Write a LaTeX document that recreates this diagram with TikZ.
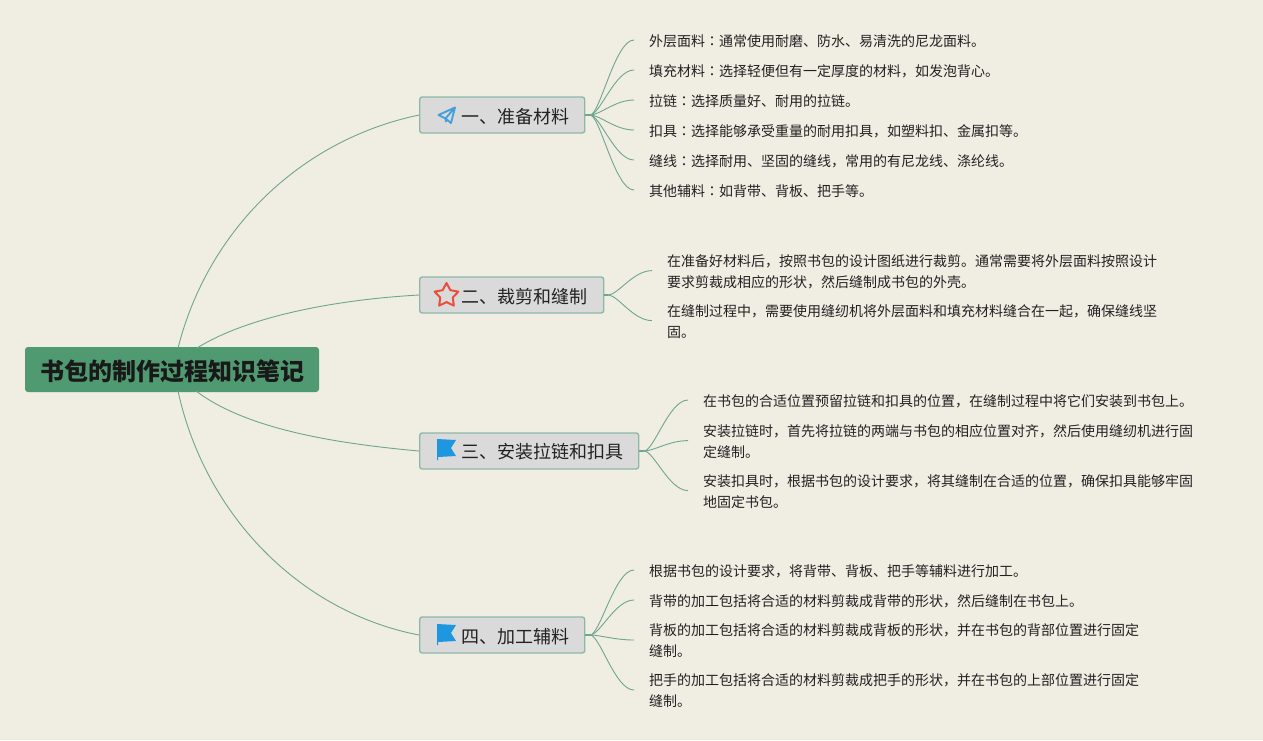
\documentclass[tikz,border=0pt]{standalone}
\usepackage{fontspec}
\usetikzlibrary{shapes.geometric}
\setmainfont{Noto Sans CJK SC}
\newfontfamily\jpf{Noto Sans CJK JP}
\newcommand{\cl}{{\jpf ：}}
\definecolor{bgc}{HTML}{F0EDE3}
\definecolor{rootc}{HTML}{509A72}
\definecolor{topicc}{HTML}{DBDADA}
\definecolor{edgec}{HTML}{8DB8A6}
\definecolor{linec}{HTML}{6FA68F}
\definecolor{flagc}{HTML}{1F96E0}
\definecolor{planec}{HTML}{44A0DA}
\definecolor{starc}{HTML}{E8503A}
\definecolor{txtc}{HTML}{222222}
\tikzset{
  rootbox/.style={fill=rootc,rounded corners=3pt,minimum width=294pt,minimum height=45pt,inner sep=0pt},
  roottext/.style={inner sep=0pt,font=\fontsize{24}{28}\selectfont\bfseries,text=black!90},
  topicbox/.style={draw=edgec,line width=1.4pt,fill=topicc,rounded corners=2.5pt,minimum height=36pt,inner ysep=0pt,inner xsep=0pt,anchor=west},
  topictext/.style={anchor=west,inner sep=0pt,font=\fontsize{18}{22}\selectfont,text=txtc},
  leaf/.style={anchor=west,align=left,inner xsep=15pt,inner ysep=0pt,font=\fontsize{14}{21}\selectfont,text=txtc},
  stub/.style={draw=linec,line width=1.5pt},
  conn/.style={draw=linec,line width=.9pt},
  flagicon/.pic={
    \fill[flagc] (0,0) -- (19,1) -- (14,9) -- (19,17) -- (1.2,18) -- (1.2,21) -- (0,21) -- cycle;
  }
}
\newcommand{\branch}[2]{\draw[conn] (#1) .. controls +(10,0) and +(-19,0) .. ([yshift=1pt]#2.west);}
\begin{document}
\begin{tikzpicture}[x=1pt,y=-1pt]
\useasboundingbox[fill=bgc] (0,0) rectangle (1263,740);

\coordinate (r1) at (178,348);
\coordinate (r2) at (197,348);
\coordinate (r3) at (196,391);
\coordinate (r4) at (178,391);
\coordinate (h1) at (590,115);
\coordinate (h2) at (608,295);
\coordinate (h3) at (644,451);
\coordinate (h4) at (590,635);

\node[rootbox] (root) at (172,369.5) {};
\node[roottext] (rootx) at (172,371.3) {书包的制作过程知识笔记};

\node[topicbox,minimum width=165pt] (t1) at (419,115) {};
\node[topicbox,minimum width=184pt] (t2) at (419,295) {};
\node[topicbox,minimum width=219pt] (t3) at (419,451) {};
\node[topicbox,minimum width=165pt] (t4) at (419,635) {};

\node[topictext] (t1x) at (461,116.2) {一、准备材料};
\node[topictext] (t2x) at (461,296.2) {二、裁剪和缝制};
\node[topictext] (t3x) at (461,451.8) {三、安装拉链和扣具};
\node[topictext] (t4x) at (461,636.2) {四、加工辅料};

\draw[conn] (r1) .. controls (208,230) and (300,140) .. (t1.west);
\draw[conn] (r2) .. controls (245,318) and (330,300) .. (t2.west);
\draw[conn] (r3) .. controls (245,428) and (330,443) .. (t3.west);
\draw[conn] (r4) .. controls (205,515) and (300,612) .. (t4.west);

\draw[stub] (t1.east) -- (h1);
\draw[stub] (t2.east) -- (h2);
\draw[stub] (t3.east) -- (h3);
\draw[stub] (t4.east) -- (h4);

% leaves
\node[leaf] (a1) at (634,41) {外层面料\cl 通常使用耐磨、防水、易清洗的尼龙面料。};
\node[leaf] (a2) at (634,71) {填充材料\cl 选择轻便但有一定厚度的材料，如发泡背心。};
\node[leaf] (a3) at (634,101) {拉链\cl 选择质量好、耐用的拉链。};
\node[leaf] (a4) at (634,131) {扣具\cl 选择能够承受重量的耐用扣具，如塑料扣、金属扣等。};
\node[leaf] (a5) at (634,161) {缝线\cl 选择耐用、坚固的缝线，常用的有尼龙线、涤纶线。};
\node[leaf] (a6) at (634,191) {其他辅料\cl 如背带、背板、把手等。};

\node[leaf] (b1) at (652,271.6) {在准备好材料后，按照书包的设计图纸进行裁剪。通常需要将外层面料按照设计\\要求剪裁成相应的形状，然后缝制成书包的外壳。};
\node[leaf] (b2) at (652,321.6) {在缝制过程中，需要使用缝纫机将外层面料和填充材料缝合在一起，确保缝线坚\\固。};

\node[leaf] (c1) at (688,401) {在书包的合适位置预留拉链和扣具的位置，在缝制过程中将它们安装到书包上。};
\node[leaf] (c2) at (688,441.6) {安装拉链时，首先将拉链的两端与书包的相应位置对齐，然后使用缝纫机进行固\\定缝制。};
\node[leaf] (c3) at (688,491.6) {安装扣具时，根据书包的设计要求，将其缝制在合适的位置，确保扣具能够牢固\\地固定书包。};

\node[leaf] (d1) at (634,571) {根据书包的设计要求，将背带、背板、把手等辅料进行加工。};
\node[leaf] (d2) at (634,601) {背带的加工包括将合适的材料剪裁成背带的形状，然后缝制在书包上。};
\node[leaf] (d3) at (634,641) {背板的加工包括将合适的材料剪裁成背板的形状，并在书包的背部位置进行固定\\缝制。};
\node[leaf] (d4) at (634,691) {把手的加工包括将合适的材料剪裁成把手的形状，并在书包的上部位置进行固定\\缝制。};

\foreach \n in {a1,a2,a3,a4,a5,a6} {\branch{h1}{\n}}
\foreach \n in {b1,b2} {\branch{h2}{\n}}
\foreach \n in {c1,c2,c3} {\branch{h3}{\n}}
\foreach \n in {d1,d2,d3,d4} {\branch{h4}{\n}}

% icons
\draw[planec,line width=1.9pt,line join=round] (455,107.5) -- (438.5,115) -- (445.5,118.5) -- (451,123) -- cycle (455,107.5) -- (445.5,118.5) -- (446,122);
\node[star,star points=5,star point ratio=1.9,draw=starc,line width=2pt,line join=round,inner sep=0pt,minimum size=25pt] (s2) at (446.5,295.5) {};
\pic at (437,439) {flagicon};
\pic at (437,624) {flagicon};
\end{tikzpicture}
\end{document}
